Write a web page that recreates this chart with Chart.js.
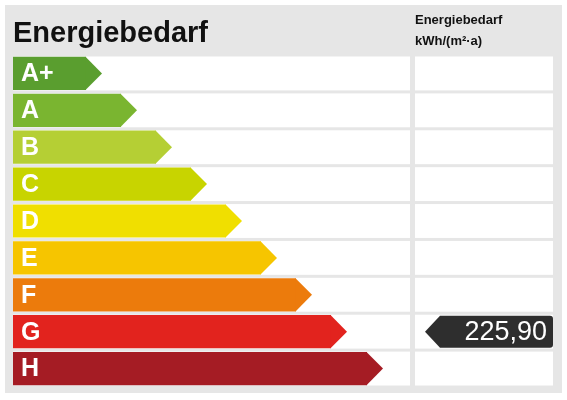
<!DOCTYPE html>
<html>
<head>
<meta charset="utf-8">
<script src="https://cdn.jsdelivr.net/npm/chart.js@4"></script>
<style>
  html, body { margin: 0; padding: 0; background: #fff; }
  #wrap { width: 567px; height: 400px; }
</style>
</head>
<body>
<div id="wrap"><canvas id="chart"></canvas></div>
<script>
const classes = ['A+', 'A', 'B', 'C', 'D', 'E', 'F', 'G', 'H'];
const barLengths = [73, 108, 143, 178, 213, 248, 283, 318, 354];
const barColors = ['#5a9e2f', '#7ab530', '#b5cf34', '#c8d400', '#f0df00', '#f6c500', '#ec7b0c', '#e2231e', '#a51c24'];
const markerClass = 'G';
const markerValue = '225,90';

const FONT = '"Liberation Sans", Arial, sans-serif';
const TIP = 16;
const SPLIT = 410;

const labelPlugin = {
  id: 'labelPlugin',
  beforeDraw(chart) {
    const { ctx, chartArea: { left, right, top, bottom }, scales: { y } } = chart;
    ctx.save();
    ctx.fillStyle = '#e6e6e6';
    ctx.fillRect(5, 5, 557, 388);
    const rowH = (bottom - top) / classes.length;
    ctx.fillStyle = '#ffffff';
    classes.forEach((c, i) => {
      const yc = y.getPixelForValue(i);
      ctx.fillRect(left, yc - rowH / 2 + 1.5, SPLIT - left, rowH - 3);
      ctx.fillRect(SPLIT + 5, yc - rowH / 2 + 1.5, right - SPLIT - 5, rowH - 3);
    });
    ctx.fillStyle = '#111';
    ctx.font = 'bold 29px ' + FONT;
    ctx.textBaseline = 'alphabetic';
    ctx.fillText('Energiebedarf', 13, 42);
    ctx.font = 'bold 13px ' + FONT;
    ctx.fillText('Energiebedarf', 415, 24);
    ctx.fillText('kWh/(m²·a)', 415, 45);
    ctx.restore();
  },
  afterDatasetsDraw(chart) {
    const { ctx, chartArea: { right }, scales: { y } } = chart;
    const meta = chart.getDatasetMeta(0);
    ctx.save();
    meta.data.forEach((bar, i) => {
      const h = bar.height;
      ctx.fillStyle = barColors[i];
      ctx.beginPath();
      ctx.moveTo(bar.x - 0.5, bar.y - h / 2);
      ctx.lineTo(bar.x + TIP, bar.y);
      ctx.lineTo(bar.x - 0.5, bar.y + h / 2);
      ctx.closePath();
      ctx.fill();
      ctx.fillStyle = '#ffffff';
      ctx.font = 'bold 25px ' + FONT;
      ctx.textBaseline = 'middle';
      ctx.fillText(classes[i], bar.base + 8, bar.y + 1);
    });
    // marker
    const yc = y.getPixelForValue(classes.indexOf(markerClass));
    const h = 32;
    const x0 = 425, x1 = 440, x2 = right;
    ctx.fillStyle = '#2e2e2e';
    ctx.beginPath();
    ctx.moveTo(x0, yc);
    ctx.lineTo(x1, yc - h / 2);
    ctx.lineTo(x2 - 3, yc - h / 2);
    ctx.quadraticCurveTo(x2, yc - h / 2, x2, yc - h / 2 + 3);
    ctx.lineTo(x2, yc + h / 2 - 3);
    ctx.quadraticCurveTo(x2, yc + h / 2, x2 - 3, yc + h / 2);
    ctx.lineTo(x1, yc + h / 2);
    ctx.closePath();
    ctx.fill();
    ctx.fillStyle = '#ffffff';
    ctx.font = '27px ' + FONT;
    ctx.textAlign = 'right';
    ctx.textBaseline = 'middle';
    ctx.fillText(markerValue, x2 - 6, yc + 1);
    ctx.restore();
  },
};

new Chart(document.getElementById('chart'), {
  type: 'bar',
  data: {
    labels: classes,
    datasets: [
      {
        data: barLengths,
        backgroundColor: barColors,
        borderWidth: 0,
        categoryPercentage: 1,
        barPercentage: 0.9,
      },
    ],
  },
  options: {
    indexAxis: 'y',
    responsive: true,
    maintainAspectRatio: false,
    animation: false,
    layout: { padding: { left: 13, right: 14, top: 55, bottom: 13 } },
    scales: {
      x: { display: false, min: 0, max: 540 },
      y: { display: false },
    },
    plugins: {
      legend: { display: false },
      tooltip: { enabled: false },
    },
  },
  plugins: [labelPlugin],
});
</script>
</body>
</html>
